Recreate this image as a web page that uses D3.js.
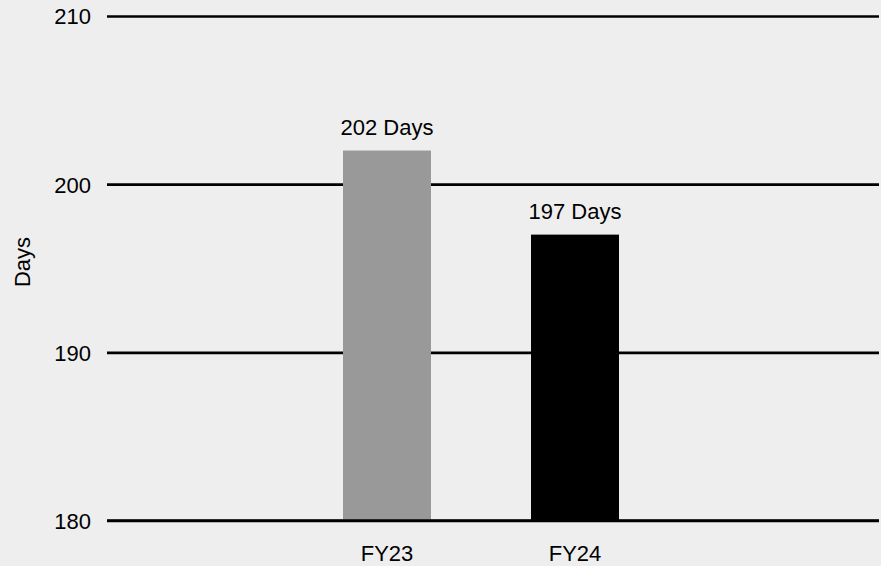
<!DOCTYPE html>
<html>
<head>
<meta charset="utf-8">
<script src="https://cdn.jsdelivr.net/npm/d3@7/dist/d3.min.js"></script>
<style>
  html, body { margin: 0; padding: 0; background: #eeeeee; }
  svg { display: block; }
  text { font-family: "Liberation Sans", Arial, Helvetica, sans-serif; fill: #000; }
</style>
</head>
<body>
<svg id="chart" width="881" height="566"></svg>
<script>
// Processing time by fiscal year
const categories = ["FY23", "FY24"];
const values = [202, 197];
const barColors = ["#999999", "#000000"];
const valueLabels = ["202 Days", "197 Days"];
const yTicks = [180, 190, 200, 210];
const yTitle = "Days";

const svg = d3.select("#chart");
const W = 881, H = 566;
const plotLeft = 107, plotRight = 879;

svg.append("rect").attr("width", W).attr("height", H).attr("fill", "#eeeeee");

const y = d3.scaleLinear().domain([180, 210]).range([520.5, 16]);
const x = d3.scaleBand()
  .domain(categories)
  .range([293, 669])
  .paddingInner(0.532)
  .paddingOuter(0.266);

// Horizontal gridlines with tick labels
const yAxis = d3.axisLeft(y)
  .tickValues(yTicks)
  .tickSize(-(plotRight - plotLeft))
  .tickPadding(16)
  .tickFormat(d3.format("d"));

const gy = svg.append("g")
  .attr("transform", `translate(${plotLeft},0)`)
  .call(yAxis);
gy.select(".domain").remove();
gy.selectAll(".tick line").attr("stroke", "#000").attr("stroke-width", 2.6);
gy.selectAll(".tick text")
  .attr("font-size", 22)
  .attr("dy", "0.36em")
  .attr("fill", "#000");

// Bars
svg.append("g").selectAll("rect")
  .data(categories)
  .join("rect")
  .attr("x", d => x(d))
  .attr("width", x.bandwidth())
  .attr("y", (d, i) => y(values[i]))
  .attr("height", (d, i) => y(180) - y(values[i]))
  .attr("fill", (d, i) => barColors[i]);

// Bottom baseline over bars
svg.append("line")
  .attr("x1", plotLeft).attr("x2", plotRight)
  .attr("y1", y(180)).attr("y2", y(180))
  .attr("stroke", "#000").attr("stroke-width", 2.6);

// Value labels above bars
svg.append("g").selectAll("text")
  .data(categories)
  .join("text")
  .attr("x", d => x(d) + x.bandwidth() / 2)
  .attr("y", (d, i) => y(values[i]) - 16)
  .attr("text-anchor", "middle")
  .attr("font-size", 22)
  .text((d, i) => valueLabels[i]);

// Category labels
svg.append("g").selectAll("text")
  .data(categories)
  .join("text")
  .attr("x", d => x(d) + x.bandwidth() / 2)
  .attr("y", 561)
  .attr("text-anchor", "middle")
  .attr("font-size", 22)
  .text(d => d);

// Y axis title
svg.append("text")
  .attr("transform", "translate(30,262) rotate(-90)")
  .attr("text-anchor", "middle")
  .attr("font-size", 22)
  .text(yTitle);
</script>
</body>
</html>
